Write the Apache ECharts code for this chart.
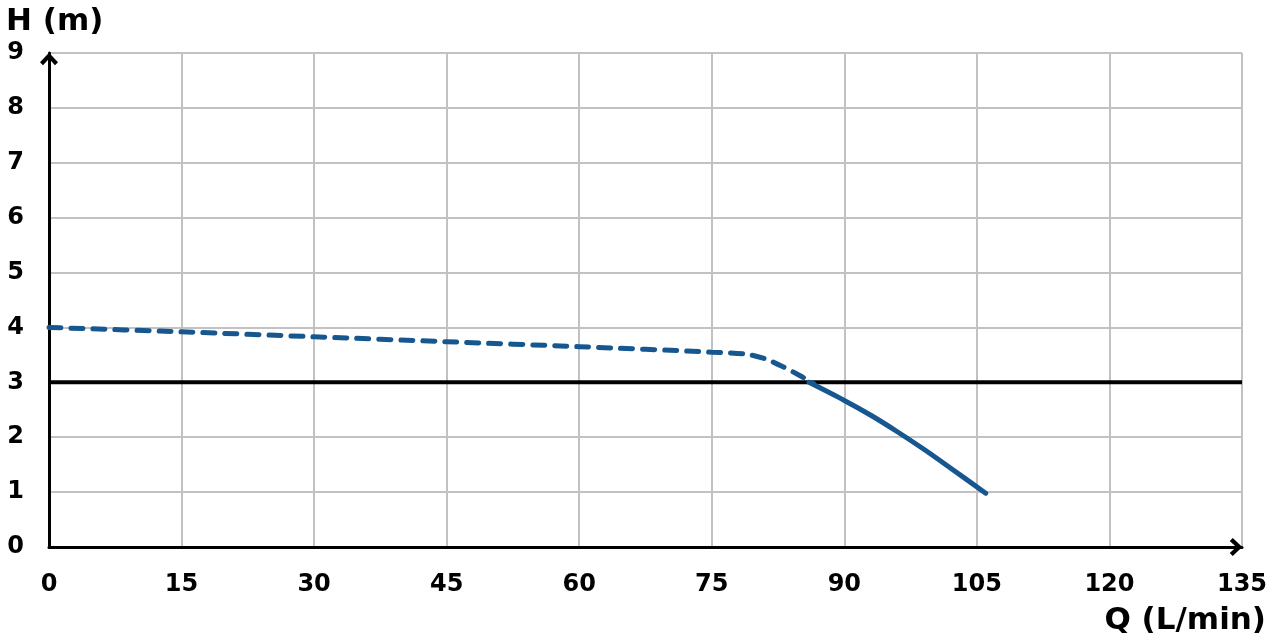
<!DOCTYPE html>
<html>
<head>
<meta charset="utf-8">
<script src="https://cdn.jsdelivr.net/npm/echarts@6/dist/echarts.min.js"></script>
<style>
html,body{margin:0;padding:0;background:#fff;}
#chart{width:1276px;height:642px;}
</style>
</head>
<body>
<div id="chart"></div>
<script>
// Data
const xTicks = [0, 15, 30, 45, 60, 75, 90, 105, 120, 135];
const yTicks = [0, 1, 2, 3, 4, 5, 6, 7, 8, 9];
const dashedQ = [0, 15, 30, 45, 60, 75, 79, 81, 83, 85, 86.5];
const dashedH = [4.0, 3.92, 3.83, 3.74, 3.65, 3.55, 3.51, 3.43, 3.29, 3.12, 2.98];
const solidQ = [86, 90, 93, 96, 99, 102, 106];
const solidH = [3.0, 2.67, 2.40, 2.10, 1.78, 1.44, 0.98];
const refQ = [0, 135];
const refH = [3, 3];
const xName = 'Q (L/min)';
const yName = 'H (m)';

const FONT = 'DejaVu Sans';
const zip = (a, b) => a.map((v, i) => [v, b[i]]);
const chevron = 'path://M9,0 L18,9.5 L15,12.5 L9,6 L3,12.5 L0,9.5 Z';

const chart = echarts.init(document.getElementById('chart'), null, {renderer: 'canvas'});
chart.setOption({
  backgroundColor: '#ffffff',
  animation: false,
  title: [
    {text: yName, left: 1, top: 1, textStyle: {fontFamily: FONT, fontWeight: 'bold', fontSize: 31, color: '#000'}},
    {text: xName, right: 5, bottom: 1, textStyle: {fontFamily: FONT, fontWeight: 'bold', fontSize: 31, color: '#000'}}
  ],
  grid: {left: 49, right: 34, top: 53, bottom: 95, containLabel: false},
  xAxis: {
    type: 'value', min: xTicks[0], max: xTicks[xTicks.length - 1], interval: 15,
    axisLine: {show: true, lineStyle: {color: '#000', width: 3}, symbol: ['none', chevron], symbolSize: [18, 13], symbolOffset: [0, -6]},
    axisTick: {show: false},
    axisLabel: {margin: 26, fontFamily: FONT, fontWeight: 'bold', fontSize: 24, color: '#000', showMinLabel: true, showMaxLabel: true},
    splitLine: {show: true, lineStyle: {color: '#c2c2c2', width: 2}}
  },
  yAxis: {
    type: 'value', min: yTicks[0], max: yTicks[yTicks.length - 1], interval: 1,
    axisLine: {show: true, lineStyle: {color: '#000', width: 3}, symbol: ['none', chevron], symbolSize: [18, 13], symbolOffset: [0, -6]},
    axisTick: {show: false},
    axisLabel: {margin: 25, fontFamily: FONT, fontWeight: 'bold', fontSize: 24, color: '#000'},
    splitLine: {show: true, lineStyle: {color: '#c2c2c2', width: 2}}
  },
  series: [
    {type: 'line', data: zip(refQ, refH), symbol: 'none', silent: true, z: 3,
     lineStyle: {color: '#000', width: 4}},
    {type: 'line', data: zip(dashedQ, dashedH), symbol: 'none', smooth: 0.3, silent: true, z: 4,
     lineStyle: {color: '#17578f', width: 5, type: [12, 10], cap: 'round'}},
    {type: 'line', data: zip(solidQ, solidH), symbol: 'none', smooth: 0.3, silent: true, z: 4,
     lineStyle: {color: '#17578f', width: 5, cap: 'round'}}
  ]
});
</script>
</body>
</html>
